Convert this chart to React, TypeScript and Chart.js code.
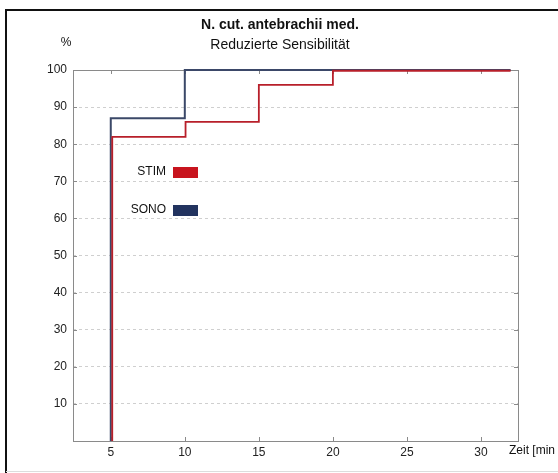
import React, { useEffect, useRef } from "react";
import { Chart, registerables } from "chart.js";

Chart.register(...registerables);

const stimTimes = [5.1, 5.1, 10.05, 15, 20, 32];
const stimValues = [0, 82, 86, 96, 99.8, 99.8];
const sonoTimes = [5, 5, 10, 32];
const sonoValues = [0, 87, 100, 100];
const xTickValues = [5, 10, 15, 20, 25, 30];
const yTickValues = [10, 20, 30, 40, 50, 60, 70, 80, 90, 100];
const seriesNames = ["STIM", "SONO"];
const seriesColors = ["#c8141e", "#22335f"];
const lineColors = ["#b81f2a", "#3b4868"];

const FONT = "'Liberation Sans', Arial, Helvetica, sans-serif";

const framePlugin = {
  id: "frame",
  beforeDatasetsDraw(chart: any) {
    const ctx = chart.ctx as CanvasRenderingContext2D;
    const { left, right, top, bottom } = chart.chartArea;
    const xs = chart.scales.x;
    const ys = chart.scales.y;
    ctx.save();
    ctx.strokeStyle = "#8a8a8a";
    ctx.lineWidth = 1;
    ctx.strokeRect(Math.round(left) + 0.5, Math.round(top) + 0.5, Math.round(right - left), Math.round(bottom - top));
    ctx.beginPath();
    xTickValues.forEach((v) => {
      const px = Math.round(xs.getPixelForValue(v)) + 0.5;
      ctx.moveTo(px, bottom);
      ctx.lineTo(px, bottom - 4);
      ctx.moveTo(px, top);
      ctx.lineTo(px, top + 4);
    });
    yTickValues.forEach((v) => {
      const py = Math.round(ys.getPixelForValue(v)) + 0.5;
      ctx.moveTo(left, py);
      ctx.lineTo(left + 4, py);
      ctx.moveTo(right, py);
      ctx.lineTo(right - 4, py);
    });
    ctx.stroke();
    ctx.restore();
  },
  afterDraw(chart: any) {
    const ctx = chart.ctx as CanvasRenderingContext2D;
    ctx.save();
    ctx.strokeStyle = "#111";
    ctx.lineWidth = 2;
    ctx.beginPath();
    ctx.moveTo(6, 473);
    ctx.lineTo(6, 10);
    ctx.lineTo(558, 10);
    ctx.stroke();
    ctx.strokeStyle = "#dddddd";
    ctx.lineWidth = 1;
    ctx.beginPath();
    ctx.moveTo(6, 471.5);
    ctx.lineTo(558, 471.5);
    ctx.stroke();
    ctx.fillStyle = "#111";
    ctx.textAlign = "center";
    ctx.textBaseline = "middle";
    ctx.font = `bold 14px ${FONT}`;
    ctx.fillText("N. cut. antebrachii med.", 280, 25);
    ctx.font = `14px ${FONT}`;
    ctx.fillText("Reduzierte Sensibilität", 280, 45);
    ctx.font = `12px ${FONT}`;
    ctx.fillText("%", 66, 43);
    ctx.textAlign = "left";
    ctx.fillText("Zeit [min", 509, 451);
    const legendY = [172, 210];
    seriesNames.forEach((name, i) => {
      ctx.textAlign = "right";
      ctx.fillStyle = "#111";
      ctx.font = `12px ${FONT}`;
      ctx.fillText(name, 166, legendY[i]);
      ctx.fillStyle = seriesColors[i];
      ctx.fillRect(173, legendY[i] - 5, 25, 11);
    });
    ctx.restore();
  },
};

export default function App() {
  const ref = useRef<HTMLCanvasElement>(null);
  useEffect(() => {
    if (!ref.current) return;
    const chart = new Chart(ref.current, {
      type: "line",
      data: {
        datasets: [
          {
            label: seriesNames[0],
            data: stimTimes.map((t, i) => ({ x: t, y: stimValues[i] })),
            borderColor: lineColors[0],
            borderWidth: 1.8,
            stepped: true,
            pointRadius: 0,
            fill: false,
            clip: false,
            order: 0,
          },
          {
            label: seriesNames[1],
            data: sonoTimes.map((t, i) => ({ x: t, y: sonoValues[i] })),
            borderColor: lineColors[1],
            borderWidth: 2,
            stepped: true,
            pointRadius: 0,
            fill: false,
            clip: false,
            order: 1,
          },
        ],
      },
      options: {
        animation: false,
        responsive: false,
        maintainAspectRatio: false,
        layout: { padding: { left: 0, top: 70, right: 40, bottom: 0 } },
        plugins: { legend: { display: false }, title: { display: false }, tooltip: { enabled: false } },
        scales: {
          x: {
            type: "linear",
            min: 2.45,
            max: 32.5,
            afterBuildTicks: (s: any) => {
              s.ticks = xTickValues.map((v) => ({ value: v }));
            },
            afterFit: (s: any) => {
              s.height = 32;
            },
            grid: { display: false, drawTicks: false },
            border: { display: false },
            ticks: { color: "#222", font: { family: FONT, size: 12 }, padding: 4, maxRotation: 0 },
          },
          y: {
            type: "linear",
            min: 0,
            max: 100,
            afterBuildTicks: (s: any) => {
              s.ticks = yTickValues.map((v) => ({ value: v }));
            },
            afterFit: (s: any) => {
              s.width = 73;
            },
            grid: { color: "#cfcfcf", drawTicks: false, lineWidth: 1 },
            border: { display: false, dash: [3, 3] },
            ticks: { color: "#222", font: { family: FONT, size: 12 }, padding: 6 },
          },
        },
      },
      plugins: [framePlugin],
    });
    return () => chart.destroy();
  }, []);
  return (
    <div style={{ position: "absolute", left: 0, top: 0, width: 558, height: 473, background: "#fff" }}>
      <canvas ref={ref} width={558} height={473} style={{ width: 558, height: 473, display: "block" }} />
    </div>
  );
}
